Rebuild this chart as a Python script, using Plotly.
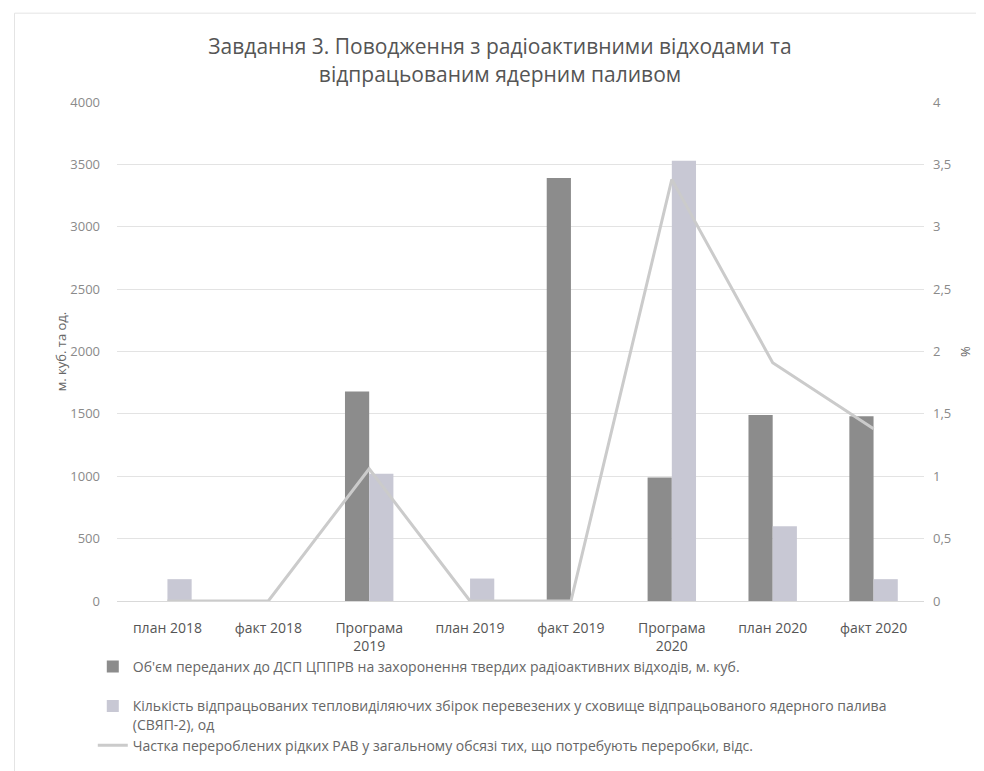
import plotly.graph_objects as go

categories = ["план 2018", "факт 2018", "Програма<br>2019", "план 2019", "факт 2019",
              "Програма<br>2020", "план 2020", "факт 2020"]
volume_waste = [0, 0, 1680, 0, 3390, 990, 1490, 1480]
fuel_assemblies = [175, 0, 1020, 180, 0, 3530, 600, 175]
liquid_share = [0, 0, 1.06, 0, 0, 3.38, 1.91, 1.38]

name_volume = "Об'єм переданих до ДСП ЦППРВ на захоронення твердих радіоактивних відходів, м. куб.<br> "
name_fuel = ("Кількість відпрацьованих тепловиділяючих збірок перевезених у сховище відпрацьованого ядерного палива"
             "<br>(СВЯП-2), од")
name_share = "Частка перероблених рідких РАВ у загальному обсязі тих, що потребують переробки, відс."

left_ticks = [0, 500, 1000, 1500, 2000, 2500, 3000, 3500, 4000]
right_ticks = [0, 0.5, 1, 1.5, 2, 2.5, 3, 3.5, 4]

FONT = "Open Sans"
fig = go.Figure()
fig.add_trace(go.Bar(x=categories, y=volume_waste, name=name_volume,
                     marker=dict(color="#8c8c8c", line=dict(width=0))))
fig.add_trace(go.Bar(x=categories, y=fuel_assemblies, name=name_fuel,
                     marker=dict(color="#c8c8d4", line=dict(width=0))))
fig.add_trace(go.Scatter(x=categories, y=liquid_share, name=name_share, yaxis="y2",
                         mode="lines", line=dict(color="#cbcbcb", width=3)))

fig.update_layout(
    width=984, height=771,
    paper_bgcolor="white", plot_bgcolor="white",
    separators=", ",
    font=dict(family=FONT, color="#777777", size=12),
    title=dict(text="Завдання 3. Поводження з радіоактивними відходами та<br>відпрацьованим ядерним паливом",
               x=0.5, xanchor="center", y=0.94, yanchor="top",
               font=dict(family=FONT, size=21, color="#555555")),
    margin=dict(l=109, r=68, t=94, b=178, autoexpand=False),
    barmode="group", bargap=0.52, bargroupgap=0,
    showlegend=True,
    legend=dict(x=-0.03, y=-0.1, xanchor="left", yanchor="top", valign="top",
                orientation="v", traceorder="normal",
                font=dict(family=FONT, size=14, color="#666666"), itemwidth=30),
    xaxis=dict(showgrid=False, showline=True, linecolor="#d9d9d9", ticks="", tickangle=0,
               ticklabelstandoff=14,
               tickfont=dict(family=FONT, size=14, color="#555555")),
    yaxis=dict(range=[0, 4000], tickvals=left_ticks, showgrid=True, gridcolor="#e3e3e3",
               zeroline=False, ticks="", ticklabelstandoff=16,
               tickfont=dict(family=FONT, size=13, color="#8a8a8a"),
               title=dict(text="м. куб. та од.", font=dict(family=FONT, size=13, color="#666666"),
                          standoff=0)),
    yaxis2=dict(range=[0, 4], tickvals=right_ticks, overlaying="y", side="right", showgrid=False,
                zeroline=False, ticks="", ticklabelstandoff=8,
                tickfont=dict(family=FONT, size=13, color="#8a8a8a"),
                title=dict(text="%", font=dict(family=FONT, size=13, color="#666666"), standoff=10)),
    shapes=[dict(type="rect", xref="paper", yref="paper", x0=-0.127, x1=1.2, y0=-0.4, y1=1.178,
                 line=dict(color="#e4e4e4", width=1), fillcolor="rgba(0,0,0,0)", layer="below")],
)

fig.write_html("out.html")
